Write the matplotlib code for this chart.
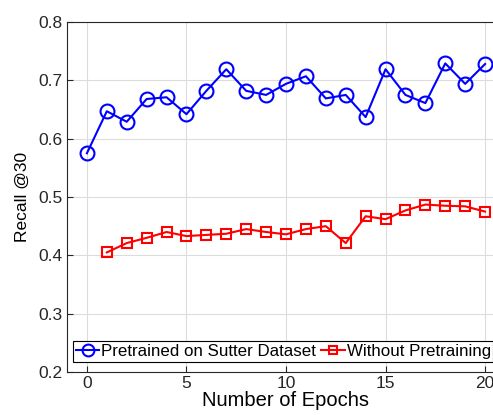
import matplotlib.pyplot as plt

plt.rcParams['font.family'] = ['Liberation Sans', 'DejaVu Sans']

epochs_pre = list(range(0, 21))
recall_pre = [0.575, 0.647, 0.629, 0.668, 0.671, 0.642, 0.682, 0.719, 0.682, 0.675,
              0.694, 0.707, 0.669, 0.675, 0.637, 0.719, 0.675, 0.661, 0.729, 0.694, 0.728]

epochs_raw = list(range(1, 21))
recall_raw = [0.405, 0.421, 0.430, 0.440, 0.433, 0.435, 0.437, 0.445, 0.440, 0.436,
              0.445, 0.450, 0.421, 0.467, 0.462, 0.477, 0.487, 0.485, 0.484, 0.475]

fig = plt.figure(figsize=(4.93, 4.15), dpi=100)
# axes run past the right edge, as in the cropped original
ax = fig.add_axes([67 / 493, 43 / 415, 438 / 493, 350 / 415])

ax.plot(epochs_pre, recall_pre, color='blue', linewidth=1.5, marker='o',
        markersize=10, markerfacecolor='none', markeredgewidth=1.5,
        label='Pretrained on Sutter Dataset')
ax.plot(epochs_raw, recall_raw, color='red', linewidth=1.5, marker='s',
        markersize=7.5, markerfacecolor='none', markeredgewidth=1.5,
        label='Without Pretraining')

ax.set_xlim(-1, 21)
ax.set_ylim(0.2, 0.8)
ax.set_xticks([0, 5, 10, 15, 20])
ax.set_yticks([0.2, 0.3, 0.4, 0.5, 0.6, 0.7, 0.8])
ax.tick_params(direction='in', labelsize=12.5, colors='#262626', length=4, pad=3)
ax.grid(True, color='#dcdcdc', linewidth=0.8)
ax.set_axisbelow(True)
for s in ax.spines.values():
    s.set_color('#262626')

ax.set_xlabel('Number of Epochs', fontsize=14.5, labelpad=0)
ax.set_ylabel('Recall @30', fontsize=12.5, labelpad=6)

leg = ax.legend(loc='lower left', bbox_to_anchor=(73 / 493, 53 / 415),
                bbox_transform=fig.transFigure, ncol=2, fontsize=12.2,
                frameon=True, fancybox=False, edgecolor='black', framealpha=1,
                borderpad=0.05, handlelength=1.4, handletextpad=0.1,
                columnspacing=0.3, borderaxespad=0, markerscale=0.85)
leg._legend_box.pad = 2
leg.get_frame().set_linewidth(0.8)

fig.savefig('out.png', dpi=100)
